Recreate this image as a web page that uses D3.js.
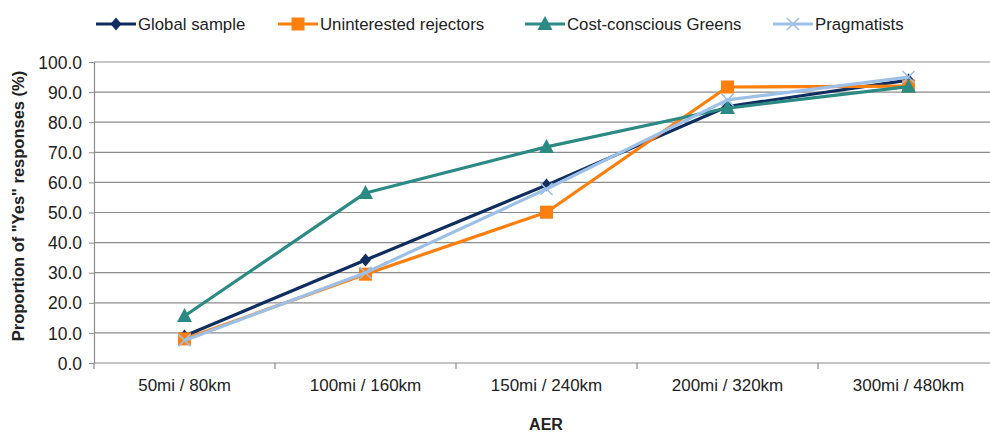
<!DOCTYPE html>
<html><head><meta charset="utf-8">
<script src="https://cdn.jsdelivr.net/npm/d3@7"></script>
<style>body{margin:0;background:#fff}svg{display:block}text{font-family:"Liberation Sans",Arial,sans-serif;fill:#222}</style>
</head><body><svg id="c" width="990" height="432"></svg>
<script>
const categories = ["50mi / 80km","100mi / 160km","150mi / 240km","200mi / 320km","300mi / 480km"];
const globalSample = [9.0, 34.2, 59.1, 85.2, 94.0];
const uninterested = [8.0, 29.5, 50.1, 91.7, 92.0];
const costGreens = [15.6, 56.5, 71.8, 84.7, 91.8];
const pragmatists = [7.5, 30.0, 57.8, 87.4, 95.0];
const yTicks = [0,10,20,30,40,50,60,70,80,90,100];
const seriesNames = ["Global sample","Uninterested rejectors","Cost-conscious Greens","Pragmatists"];

const series = [
  {name: seriesNames[0], values: globalSample, color: "#0f2d5e", marker: "diamond"},
  {name: seriesNames[1], values: uninterested, color: "#ff7f0e", marker: "square"},
  {name: seriesNames[2], values: costGreens, color: "#2b8a84", marker: "triangle"},
  {name: seriesNames[3], values: pragmatists, color: "#9dc0e8", marker: "x"}
];

const svg = d3.select("#c");
const mLeft = 94, mRight = 999, mTop = 62, mBottom = 363;
const x = d3.scaleBand().domain(categories).range([mLeft, mRight]);
const y = d3.scaleLinear().domain([0,100]).range([mBottom, mTop]);

// gridlines
svg.append("g").selectAll("line").data(yTicks.filter(d=>d>0)).join("line")
  .attr("x1", mLeft).attr("x2", 990).attr("y1", d=>y(d)).attr("y2", d=>y(d))
  .attr("stroke", "#8c8c8c").attr("stroke-width", 1.2);

// y axis
const ya = svg.append("g").attr("transform", `translate(${mLeft},0)`)
  .call(d3.axisLeft(y).tickValues(yTicks).tickFormat(d3.format(".1f")).tickSize(5).tickSizeOuter(0));
ya.select(".domain").attr("stroke", "#8c8c8c").attr("stroke-width", 1.2);
ya.selectAll(".tick line").attr("stroke", "#8c8c8c");
ya.selectAll("text").attr("font-size", 17.5).attr("fill", "#222").attr("x", -12).attr("dy", "0.35em")
  .style("font-family", "'Liberation Sans',Arial,sans-serif");

// x axis
const xa = svg.append("g").attr("transform", `translate(0,${mBottom})`)
  .call(d3.axisBottom(x).tickSize(0).tickSizeOuter(0));
xa.select(".domain").attr("stroke", "#8c8c8c").attr("stroke-width", 1.2).attr("d", `M${mLeft},0H990`);
xa.selectAll("text").attr("font-size", 17).attr("fill", "#222").attr("dy", 0).attr("y", 28)
  .style("font-family", "'Liberation Sans',Arial,sans-serif");
// category boundary ticks
svg.append("g").selectAll("line").data(categories).join("line")
  .attr("x1", d=>x(d)).attr("x2", d=>x(d)).attr("y1", mBottom).attr("y2", mBottom+6)
  .attr("stroke", "#8c8c8c").attr("stroke-width", 1.2);

// titles
svg.append("text").attr("x", 546).attr("y", 430).attr("text-anchor", "middle")
  .attr("font-size", 16).attr("font-weight", "bold").text("AER");
svg.append("text").attr("transform", "translate(24,206) rotate(-90)").attr("text-anchor", "middle")
  .attr("font-size", 16.5).attr("font-weight", "bold").text('Proportion of "Yes" responses (%)');

function drawMarker(g, type, color, cx, cy) {
  if (type === "diamond") {
    g.append("path").attr("d", `M${cx},${cy-6.5}L${cx+5.5},${cy}L${cx},${cy+6.5}L${cx-5.5},${cy}Z`).attr("fill", color);
  } else if (type === "square") {
    g.append("rect").attr("x", cx-6.5).attr("y", cy-6.5).attr("width", 13).attr("height", 13).attr("fill", color);
  } else if (type === "triangle") {
    g.append("path").attr("d", `M${cx},${cy-8}L${cx+7.5},${cy+6}L${cx-7.5},${cy+6}Z`).attr("fill", color);
  } else {
    g.append("path").attr("d", `M${cx-6},${cy-6}L${cx+6},${cy+6}M${cx+6},${cy-6}L${cx-6},${cy+6}`)
      .attr("stroke", color).attr("stroke-width", 1.6).attr("fill", "none");
  }
}

const line = d3.line().x((d,i)=>x(categories[i]) + x.bandwidth()/2).y(d=>y(d));
series.forEach(s => {
  const g = svg.append("g");
  g.append("path").attr("d", line(s.values)).attr("fill", "none").attr("stroke", s.color)
    .attr("stroke-width", 3.2).attr("stroke-linejoin", "round");
  s.values.forEach((v,i) => drawMarker(g, s.marker, s.color, x(categories[i]) + x.bandwidth()/2, y(v)));
});

// legend
const legendX = [96, 278, 525, 773];
series.forEach((s,i) => {
  const g = svg.append("g");
  const lx = legendX[i];
  g.append("line").attr("x1", lx).attr("x2", lx+40).attr("y1", 24).attr("y2", 24)
    .attr("stroke", s.color).attr("stroke-width", 3.2);
  drawMarker(g, s.marker, s.color, lx+20, 24);
  g.append("text").attr("x", lx+42).attr("y", 30).attr("font-size", 16.8).text(s.name);
});
</script></body></html>
